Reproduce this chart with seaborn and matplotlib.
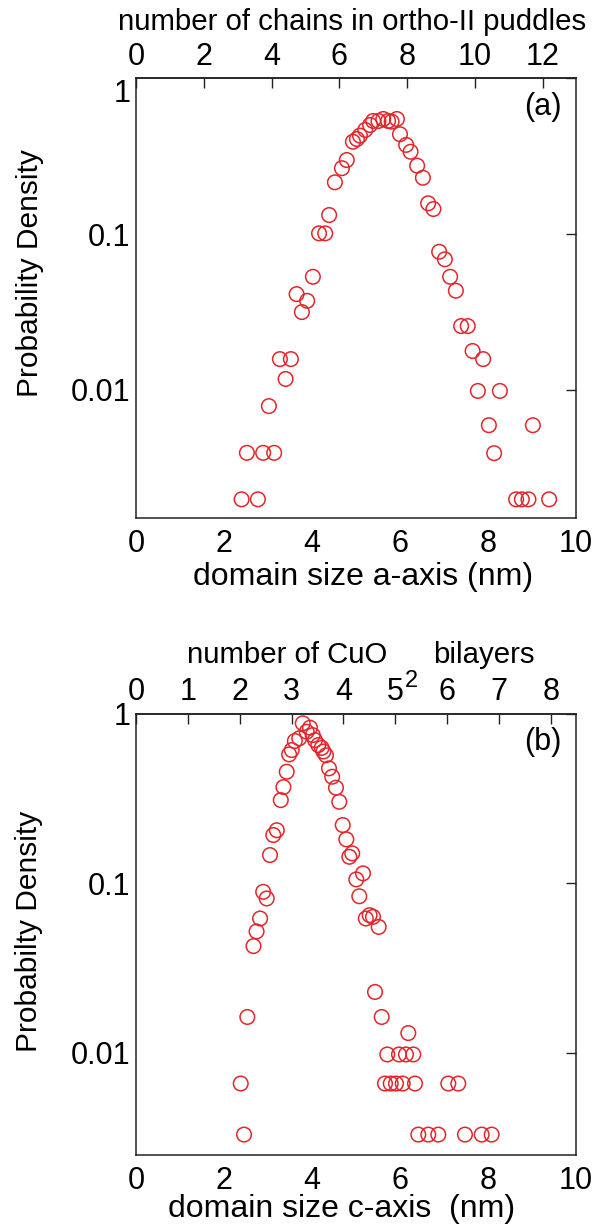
import numpy as np
import pandas as pd
import matplotlib
matplotlib.use("Agg")
import matplotlib.pyplot as plt
import matplotlib.ticker as mticker
import matplotlib.transforms as mtransforms
import seaborn as sns

# ---------------- data ----------------
# panel (a): domain size along a-axis (nm) vs probability density
a_size = [2.40, 2.52, 2.77, 2.89, 3.02, 3.14, 3.27, 3.40, 3.52, 3.65, 3.77, 3.89,
          4.02, 4.16, 4.30, 4.39, 4.52, 4.68, 4.79, 4.93, 5.02, 5.09, 5.21, 5.32,
          5.39, 5.51, 5.62, 5.73, 5.81, 5.93, 6.00, 6.14, 6.24, 6.39, 6.52, 6.64,
          6.76, 6.89, 7.02, 7.14, 7.27, 7.39, 7.54, 7.65, 7.77, 7.89, 8.02, 8.14,
          8.27, 8.64, 8.77, 8.92, 9.02, 9.39]
a_prob = [0.00197, 0.00392, 0.00197, 0.00392, 0.00783, 0.00392, 0.0157, 0.0117,
          0.0157, 0.0411, 0.0315, 0.0372, 0.0531, 0.101, 0.101, 0.1325, 0.215,
          0.265, 0.299, 0.392, 0.408, 0.429, 0.467, 0.502, 0.533, 0.533, 0.549,
          0.533, 0.528, 0.549, 0.438, 0.374, 0.338, 0.275, 0.230, 0.1575, 0.1448,
          0.0769, 0.0688, 0.0531, 0.0432, 0.0256, 0.0256, 0.0177, 0.0098, 0.0157,
          0.0059, 0.0039, 0.0098, 0.00197, 0.00197, 0.00197, 0.0059, 0.00197]

# panel (b): domain size along c-axis (nm) vs probability density
c_size = [2.38, 2.455, 2.53, 2.67, 2.74, 2.82, 2.89, 2.97, 3.045, 3.12, 3.20,
          3.29, 3.35, 3.425, 3.48, 3.54, 3.61, 3.71, 3.79, 3.88, 3.955, 4.016,
          4.068, 4.143, 4.22, 4.26, 4.318, 4.386, 4.459, 4.545, 4.62, 4.698,
          4.78, 4.848, 4.914, 5.007, 5.075, 5.159, 5.223, 5.309, 5.386, 5.432,
          5.516, 5.584, 5.659, 5.711, 5.789, 5.909, 5.977, 6.061, 6.136, 6.189,
          6.302, 6.341, 6.416, 6.643, 6.870, 7.098, 7.325, 7.477, 7.857, 8.084]
c_prob = [0.0066, 0.0033, 0.0163, 0.0427, 0.0521, 0.0621, 0.0892, 0.0815, 0.147,
          0.193, 0.206, 0.310, 0.370, 0.456, 0.577, 0.612, 0.692, 0.718, 0.880,
          0.785, 0.829, 0.750, 0.700, 0.655, 0.630, 0.600, 0.570, 0.4775, 0.426,
          0.367, 0.303, 0.221, 0.182, 0.1436, 0.1504, 0.1056, 0.084, 0.1146,
          0.0621, 0.065, 0.0635, 0.0229, 0.0554, 0.0163, 0.0066, 0.0098, 0.0066,
          0.0066, 0.0098, 0.0066, 0.0098, 0.0131, 0.0098, 0.0066, 0.0033, 0.0033,
          0.0033, 0.0066, 0.0066, 0.0033, 0.0033, 0.0033]

x_ticks = [0, 2, 4, 6, 8, 10]
y_ticks = [1, 0.1, 0.01]
y_tick_labels = ["1", "0.1", "0.01"]
top_ticks_a = [0, 2, 4, 6, 8, 10, 12]
top_ticks_b = [0, 1, 2, 3, 4, 5, 6, 7, 8]
chain_spacing = 0.77     # nm per ortho-II chain
bilayer_spacing = 1.178  # nm per CuO2 bilayer

# ---------------- style ----------------
sns.set_style("white")
plt.rcParams['font.family'] = ['Liberation Sans', 'DejaVu Sans']
plt.rcParams['axes.linewidth'] = 1.0
plt.rcParams['axes.edgecolor'] = '#222222'
plt.rcParams['text.color'] = 'black'
plt.rcParams['axes.labelcolor'] = 'black'
plt.rcParams['xtick.color'] = 'black'
plt.rcParams['ytick.color'] = 'black'

RED = '#E3262A'
TICK_FS = 22
LABEL_FS = 21.5
XLABEL_FS = 23

fig = plt.figure(figsize=(6.04, 12.26), dpi=100)
ax_a = fig.add_axes([0.2252, 0.5777, 0.7284, 0.3583])
ax_b = fig.add_axes([0.2252, 0.0579, 0.7284, 0.3598])


def style_axes(ax, ymin, factor, top_ticks):
    ax.set_yscale('log')
    ax.set_xlim(0, 10)
    ax.set_ylim(ymin, 1)
    ax.set_xticks(x_ticks)
    ax.set_yticks(y_ticks)
    ax.yaxis.set_major_formatter(mticker.FixedFormatter(y_tick_labels))
    ax.yaxis.set_minor_locator(mticker.NullLocator())
    ax.xaxis.set_minor_locator(mticker.NullLocator())
    ax.tick_params(axis='both', which='major', direction='in', length=7.5,
                   width=1.0, color='#222222', labelsize=TICK_FS,
                   labelcolor='black')
    ax.tick_params(axis='x', pad=8)
    ax.tick_params(axis='y', right=True, pad=4)
    ax.set_xlabel("")
    ax.set_ylabel("")
    for sp in ax.spines.values():
        sp.set_visible(True)
        sp.set_color('#222222')
        sp.set_linewidth(1.1)
    sec = ax.secondary_xaxis('top', functions=(lambda x: x / factor,
                                               lambda n: n * factor))
    sec.set_xticks(top_ticks)
    sec.tick_params(direction='in', length=7.5, width=1.0, color='#222222',
                    labelsize=TICK_FS, labelcolor='black', pad=5)
    sec.spines['top'].set_linewidth(1.1)
    return sec


def draw(ax, xs, ys):
    df = pd.DataFrame({"size": xs, "prob": ys})
    sns.scatterplot(data=df, x="size", y="prob", ax=ax, marker='o', s=110,
                    color=RED, linewidth=1.1, legend=False)
    pc = ax.collections[-1]
    pc.set_facecolor('none')
    pc.set_edgecolor(RED)
    pc.set_linewidth(1.1)


# panel (a)
draw(ax_a, a_size, a_prob)
style_axes(ax_a, 0.0015, chain_spacing, top_ticks_a)
ax_a.text(0.49, 1.110, "number of chains in ortho-II puddles", transform=ax_a.transAxes,
          ha='center', va='baseline', fontsize=LABEL_FS - 0.3)
ax_a.text(0.517, -0.153, "domain size a-axis (nm)", transform=ax_a.transAxes,
          ha='center', va='baseline', fontsize=XLABEL_FS)
ax_a.text(-0.241, 0.557, "Probability Density", transform=ax_a.transAxes,
          ha='center', va='center', rotation=90, fontsize=LABEL_FS)
ax_a.text(0.925, 0.935, "(a)", transform=ax_a.transAxes, ha='center', va='center',
          fontsize=TICK_FS)
# the "1" label of panel (a) sits a little below its tick in the original
fig.canvas.draw()
shift = mtransforms.ScaledTranslation(0, -12 / 100, fig.dpi_scale_trans)
for tick in ax_a.yaxis.get_major_ticks():
    if abs(tick.get_loc() - 1.0) < 1e-9:
        tick.label1.set_transform(tick.label1.get_transform() + shift)

# panel (b)
draw(ax_b, c_size, c_prob)
style_axes(ax_b, 0.0025, bilayer_spacing, top_ticks_b)
ax_b.text(0.570, 1.1156, "number of CuO", transform=ax_b.transAxes,
          ha='right', va='baseline', fontsize=LABEL_FS - 0.3)
ax_b.text(0.627, 1.061, "2", transform=ax_b.transAxes,
          ha='center', va='baseline', fontsize=TICK_FS - 5)
ax_b.text(0.675, 1.1156, "bilayers", transform=ax_b.transAxes,
          ha='left', va='baseline', fontsize=LABEL_FS - 0.3)
ax_b.text(0.467, -0.1406, "domain size c-axis  (nm)", transform=ax_b.transAxes,
          ha='center', va='baseline', fontsize=XLABEL_FS)
ax_b.text(-0.243, 0.508, "Probabilty Density", transform=ax_b.transAxes,
          ha='center', va='center', rotation=90, fontsize=LABEL_FS)
ax_b.text(0.925, 0.937, "(b)", transform=ax_b.transAxes, ha='center', va='center',
          fontsize=TICK_FS)

fig.savefig("out.png", dpi=100)
